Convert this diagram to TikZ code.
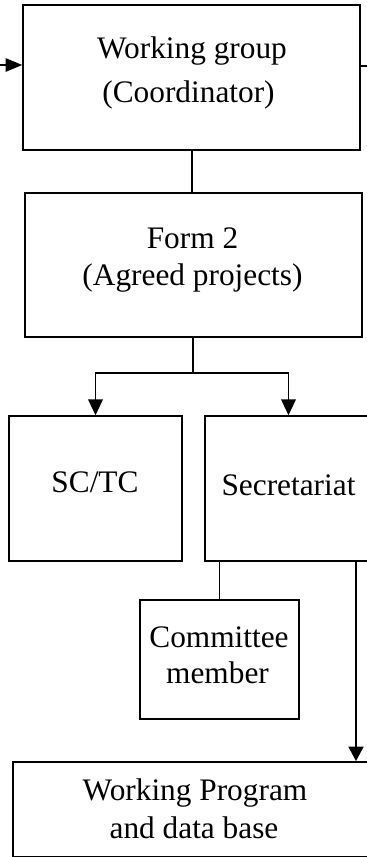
\documentclass[tikz,border=0pt]{standalone}
\usepackage{fontspec}
\setmainfont{Liberation Serif}
\usetikzlibrary{arrows.meta}
\begin{document}
\begin{tikzpicture}[x=0.75pt,y=-0.75pt,
  box/.style 2 args={draw, line width=1.1pt, rectangle, inner sep=0pt,
    minimum width=#1*0.75pt, minimum height=#2*0.75pt},
  txt/.style={anchor=base, inner sep=0pt, font=\fontsize{23.5}{28}\selectfont},
  plain/.style={line width=1.1pt},
  forkarr/.style={line width=1.4pt, -{Triangle[length=12pt,width=11pt]}},
  inarr/.style={line width=1.3pt, -{Triangle[length=12.5pt,width=10pt]}},
  thickarr/.style={line width=2pt, -{Triangle[length=11pt,width=11pt]}}]
\useasboundingbox (0,0) rectangle (367,857);
\clip (0,0) rectangle (367,857);
% boxes
\node[box={337}{145}] (wg) at (191.5,77.5) {};
\node[box={337}{144}] (f2) at (193.5,265) {};
\node[box={173}{145}] (sc) at (95.5,488.5) {};
\node[box={167}{145}] (sec) at (288.5,488.5) {};
\node[box={159}{119}] (cm) at (219.5,659.5) {};
\node[box={364}{95}] (wp) at (195,809.5) {};
% texts
\node[txt] (wgA) at (192,58) {Working group};
\node[txt] (wgB) at (188.5,102) {(Coordinator)};
\node[txt] (f2A) at (192.5,248) {Form 2};
\node[txt] (f2B) at (192.5,285) {(Agreed projects)};
\node[txt] (scA) at (95,492) {SC/TC};
\node[txt] (secA) at (288.5,495) {Secretariat};
\node[txt] (cmA) at (219,647) {Committee};
\node[txt] (cmB) at (217.5,683) {member};
\node[txt] (wpA) at (195,800) {Working Program};
\node[txt] (wpB) at (194,838) {and data base};
% connectors
\coordinate (lin) at (-5,65);
\draw[inarr] (lin) -- (lin -| wg.west);
\coordinate (rout) at (375,66);
\draw[plain] (rout -| wg.east) -- (rout);
\coordinate (c1) at (192,0);
\draw[plain] (wg.south -| c1) -- (f2.north -| c1);
\coordinate (fk) at (193,373);
\draw[forkarr] (f2.south -| fk) -- (fk) -| (sc.north);
\draw[forkarr] (fk) -| (sec.north);
\draw[plain] (sec.south -| cm.north) -- (cm.north);
\coordinate (tk) at (356,0);
\draw[thickarr] (sec.south -| tk) -- (wp.north -| tk);
\end{tikzpicture}
\end{document}
